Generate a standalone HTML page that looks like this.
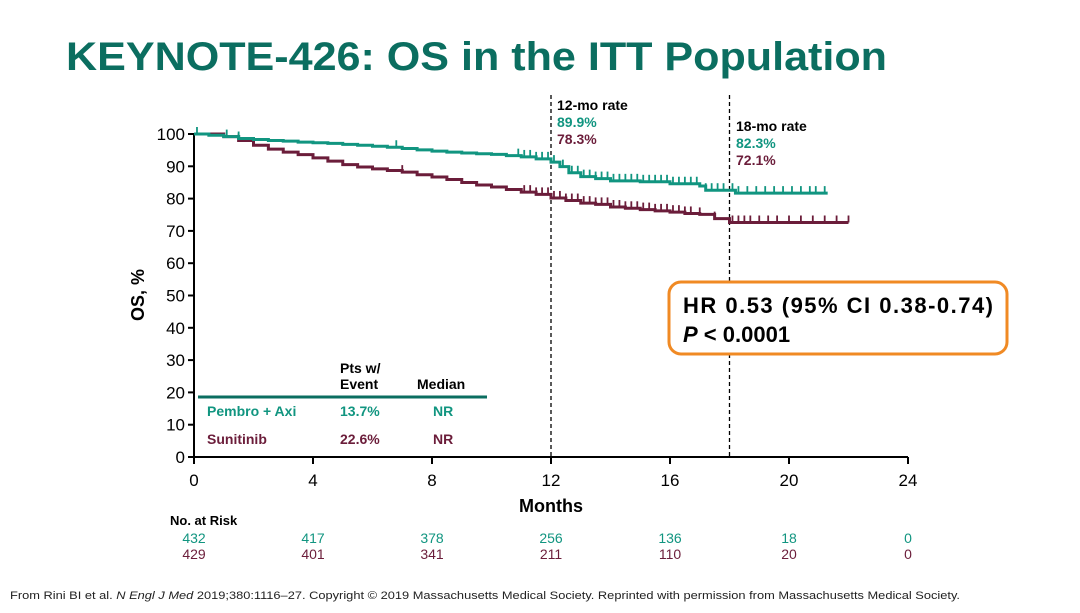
<!DOCTYPE html>
<html><head><meta charset="utf-8"><style>
body{margin:0;width:1080px;height:608px;background:#fff;overflow:hidden;font-family:"Liberation Sans",Arial,sans-serif}
</style></head><body>
<svg width="1080" height="608" xmlns="http://www.w3.org/2000/svg" font-family="Liberation Sans, Arial, sans-serif">
<text x="66" y="70" font-size="40" font-weight="bold" fill="#0b6e60" textLength="821" lengthAdjust="spacingAndGlyphs">KEYNOTE-426: OS in the ITT Population</text>
<g id="axes"></g>
<g id="marks"></g>
<text transform="translate(144,295) rotate(-90)" text-anchor="middle" font-size="18" font-weight="bold">OS, %</text>
<text x="551" y="512" text-anchor="middle" font-size="18" font-weight="bold">Months</text>
<g font-size="14" font-weight="bold">
<text x="557" y="110">12-mo rate</text><text x="557" y="127" fill="#119580">89.9%</text><text x="557" y="144" fill="#6b1d3a">78.3%</text></g>
<g font-size="14" font-weight="bold">
<text x="736" y="131">18-mo rate</text><text x="736" y="148" fill="#119580">82.3%</text><text x="736" y="165" fill="#6b1d3a">72.1%</text></g>
<g font-size="14" font-weight="bold">
<text x="340" y="373">Pts w/</text><text x="340" y="389">Event</text><text x="417" y="389">Median</text>
<line x1="198" y1="397" x2="487" y2="397" stroke="#0b6e60" stroke-width="3"/>
<text x="207" y="416" fill="#119580">Pembro + Axi</text><text x="340" y="416" fill="#119580">13.7%</text><text x="433" y="416" fill="#119580">NR</text>
<text x="207" y="444" fill="#6b1d3a">Sunitinib</text><text x="340" y="444" fill="#6b1d3a">22.6%</text><text x="433" y="444" fill="#6b1d3a">NR</text>
</g>
<rect x="669" y="282" width="338" height="72" rx="12" fill="#fff" stroke="#f08a24" stroke-width="3"/>
<text x="683" y="313" font-size="22" font-weight="bold" textLength="310" lengthAdjust="spacing">HR 0.53 (95% CI 0.38-0.74)</text>
<text x="683" y="342" font-size="22" font-weight="bold"><tspan font-style="italic">P</tspan> &lt; 0.0001</text>
<text x="170" y="525" font-size="13" font-weight="bold">No. at Risk</text>
<g id="risk" font-size="14"></g>
<text x="10" y="599" font-size="11" fill="#222" textLength="950" lengthAdjust="spacingAndGlyphs">From Rini BI et al. <tspan font-style="italic">N Engl J Med</tspan> 2019;380:1116–27. Copyright © 2019 Massachusetts Medical Society. Reprinted with permission from Massachusetts Medical Society.</text>
</svg>
<script>
const xTicks=[0,4,8,12,16,20,24];
const yTicks=[0,10,20,30,40,50,60,70,80,90,100];
const pembroT=[0,0.5,1,1.5,2,2.5,3,3.5,4,4.5,5,5.5,6,6.5,7,7.5,8,8.5,9,9.5,10,10.5,11,11.5,12,12.3,12.6,13,13.5,14,15,16,17,17.2,18.2,21.3];
const pembroS=[100,99.6,99.2,98.6,98.3,98,97.8,97.5,97.3,97.1,96.8,96.5,96.2,95.9,95.5,95.1,94.7,94.4,94.1,93.9,93.7,93.3,92.9,92.3,91.3,89.9,88,86.8,86.2,85.5,85.2,84.6,83.9,82.6,81.7,81.7];
const suniT=[0,1,1.5,2,2.5,3,3.5,4,4.5,5,5.5,6,6.5,7,7.5,8,8.5,9,9.5,10,10.5,11,11.5,12,12.5,13,13.5,14,14.5,15,15.5,16,16.5,17,17.5,18,22];
const suniS=[100,99.2,98,96.5,95.3,94.4,93.6,92.6,91.6,90.5,89.8,89.2,88.7,88.2,87.4,86.7,85.9,85,84.2,83.6,82.8,82,81.3,80.2,79.4,78.6,78.2,77.4,77,76.6,76.2,75.8,75.4,75.1,73.8,72.6,72.6];
const pembroCens=[0.1,1.1,1.5,6.8,10.9,11.1,11.3,11.5,11.7,11.9,12.1,12.4,12.7,12.9,13.1,13.3,13.5,13.7,13.9,14.1,14.3,14.5,14.7,14.9,15.1,15.3,15.5,15.7,15.9,16.1,16.3,16.5,16.7,16.9,17.2,17.4,17.6,17.8,18.1,18.3,18.6,18.9,19.2,19.5,19.8,20.1,20.4,20.7,20.9,21.2];
const suniCens=[1.5,7,11.1,11.3,11.5,11.7,11.9,12.1,12.3,12.5,12.7,12.9,13.1,13.3,13.5,13.7,13.9,14.1,14.3,14.5,14.7,14.9,15.1,15.3,15.5,15.7,15.9,16.1,16.3,16.5,16.7,17,17.5,18.1,18.3,18.5,18.7,19,19.3,19.6,20,20.4,20.8,21.2,21.6,22];
const riskP=[432,417,378,256,136,18,0];
const riskS=[429,401,341,211,110,20,0];
const NS="http://www.w3.org/2000/svg";
const X=m=>194+m*(714/24), Y=v=>457-v*3.23;
function mk(t,a,p){const e=document.createElementNS(NS,t);for(const k in a)e.setAttribute(k,a[k]);(p||document.getElementById('marks')).appendChild(e);return e;}
const ax=document.getElementById('axes');
const xl=mk('line',{x1:194,y1:457,x2:908,y2:457,stroke:'#000','stroke-width':2},ax);

const yl=mk('line',{x1:194,y1:134,x2:194,y2:457,stroke:'#000','stroke-width':2},ax);

xTicks.forEach(t=>{mk('line',{x1:X(t),y1:457,x2:X(t),y2:464,stroke:'#000','stroke-width':2},ax);
const tx=mk('text',{x:X(t),y:486,'text-anchor':'middle','font-size':17},ax);tx.textContent=t;
});
yTicks.forEach(t=>{mk('line',{x1:188,y1:Y(t),x2:194,y2:Y(t),stroke:'#000','stroke-width':2},ax);
const tx=mk('text',{x:185,y:Y(t)+6,'text-anchor':'end','font-size':17},ax);tx.textContent=t;
});
[12,18].forEach(m=>{const l=mk('line',{x1:X(m),y1:95,x2:X(m),y2:457,stroke:'#000','stroke-width':1.3,'stroke-dasharray':'4,3'});
});
function stepAt(T,S,m){let v=S[0];for(let i=0;i<T.length;i++)if(T[i]<=m)v=S[i];return v;}
function curve(T,S,C,col,name){let d='M'+X(T[0])+','+Y(S[0]);
for(let i=1;i<T.length;i++){d+=' H'+X(T[i])+' V'+Y(S[i]);}
const p=mk('path',{d:d,fill:'none',stroke:col,'stroke-width':3});

C.forEach(c=>{const y=Y(stepAt(T,S,c));const t=mk('line',{x1:X(c),y1:y,x2:X(c),y2:y-7,stroke:col,'stroke-width':1.8});
});}
curve(suniT,suniS,suniCens,'#6b1d3a','sunitinib-curve');
curve(pembroT,pembroS,pembroCens,'#119580','pembro-axi-curve');
const rg=document.getElementById('risk');
xTicks.forEach((t,i)=>{const a=mk('text',{x:X(t),y:543,'text-anchor':'middle',fill:'#119580'},rg);a.textContent=riskP[i];

const b=mk('text',{x:X(t),y:559,'text-anchor':'middle',fill:'#6b1d3a'},rg);b.textContent=riskS[i];
});
</script>
</body></html>
